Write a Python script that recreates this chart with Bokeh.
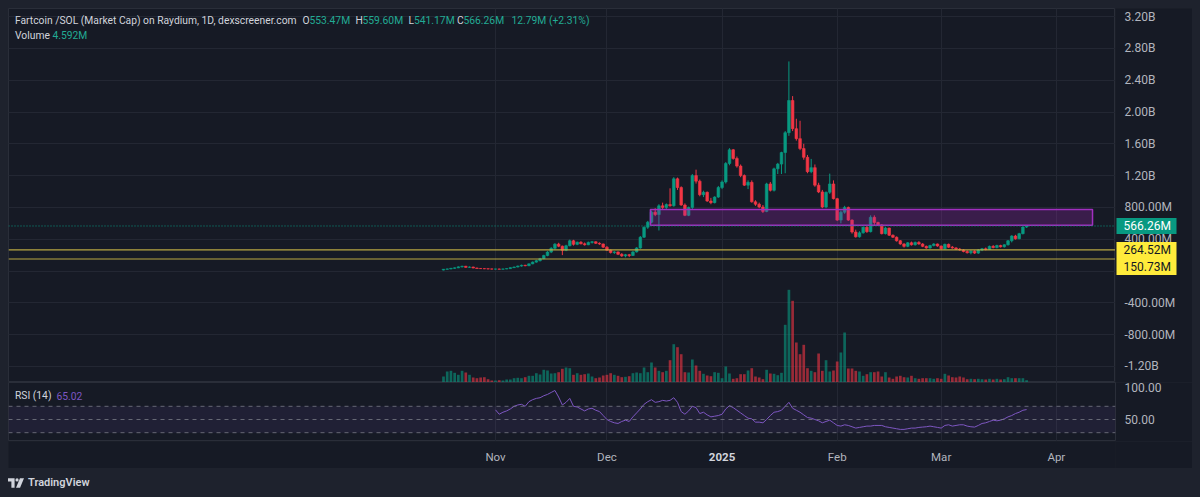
import pandas as pd
from bokeh.plotting import figure
from bokeh.models import Range1d, FixedTicker, Span, Label, BoxAnnotation, ColumnDataSource, Div
from bokeh.layouts import column, row
from bokeh.embed import file_html
from bokeh.resources import INLINE
from bokeh.core.properties import value

# ---------------- data (market cap in millions USD) ----------------
first_day = "2024-10-18"
last_day = "2025-03-24"

opens = [12, 22, 26, 34, 40, 52, 60, 46, 50, 38,
         32, 30, 28, 26, 24, 25, 22, 26, 30, 42,
         50, 62, 72, 66, 90, 112, 130, 155, 195, 238,
         285, 338, 312, 260, 318, 380, 335, 362, 342, 330,
         360, 368, 348, 340, 300, 262, 232, 240, 210, 190,
         205, 195, 240, 290, 425, 551, 614, 740, 710, 820,
         800, 835, 820, 1160, 1050, 830, 700, 800, 1200, 1130,
         960, 990, 880, 860, 930, 1050, 1120, 1352, 1525, 1415,
         1320, 1200, 1080, 1115, 870, 840, 805, 750, 1095, 1015,
         1285, 1345, 1490, 1740, 2145, 1790, 1665, 1540, 1430, 1250,
         1300, 1080, 995, 805, 990, 1095, 910, 640, 740, 800,
         640, 490, 430, 480, 550, 495, 675, 610, 580, 470,
         540, 450, 425, 380, 340, 310, 355, 330, 360, 340,
         310, 290, 320, 340, 315, 280, 335, 300, 290, 275,
         265, 245, 230, 250, 225, 265, 280, 270, 310, 295,
         320, 305, 330, 380, 440, 405, 470, 553.47]

highs = [25, 30, 38, 45, 58, 66, 64, 58, 54, 42,
         36, 34, 33, 30, 28, 30, 28, 32, 45, 55,
         68, 80, 78, 95, 120, 140, 165, 205, 250, 300,
         350, 355, 320, 330, 395, 392, 370, 375, 358, 370,
         378, 372, 360, 345, 312, 270, 250, 245, 225, 215,
         215, 250, 300, 440, 560, 630, 760, 790, 840, 860,
         850, 1040, 1180, 1175, 1065, 850, 810, 1220, 1275, 1150,
         1010, 1000, 920, 940, 1070, 1140, 1370, 1545, 1535, 1440,
         1340, 1215, 1140, 1140, 890, 860, 830, 1110, 1120, 1300,
         1360, 1500, 1760, 2636, 2200, 1915, 1890, 1600, 1460, 1410,
         1340, 1110, 1020, 1000, 1225, 1140, 920, 760, 820, 810,
         650, 520, 500, 560, 570, 700, 700, 620, 590, 555,
         545, 460, 435, 390, 350, 365, 370, 370, 375, 350,
         320, 330, 350, 345, 320, 345, 345, 315, 300, 290,
         275, 260, 260, 260, 275, 290, 295, 320, 325, 330,
         330, 335, 390, 450, 455, 480, 560, 566.26]

lows = [8, 18, 22, 28, 36, 45, 42, 40, 34, 28,
        26, 24, 22, 20, 18, 20, 20, 23, 28, 38,
        46, 55, 60, 62, 85, 105, 120, 148, 185, 225,
        270, 300, 200, 250, 310, 320, 325, 335, 320, 325,
        345, 340, 330, 290, 255, 220, 215, 200, 178, 172,
        175, 190, 232, 280, 415, 530, 600, 690, 510, 780,
        770, 810, 810, 1020, 820, 690, 690, 770, 1100, 940,
        930, 870, 840, 850, 920, 1030, 1100, 1330, 1400, 1300,
        1180, 1070, 1030, 860, 820, 790, 730, 740, 1000, 1000,
        1220, 1220, 1230, 1700, 1760, 1640, 1520, 1400, 1230, 1230,
        1060, 980, 790, 790, 970, 900, 630, 600, 720, 630,
        470, 420, 420, 470, 480, 485, 580, 565, 460, 460,
        440, 415, 370, 330, 295, 300, 320, 320, 330, 300,
        280, 280, 310, 305, 270, 270, 290, 280, 265, 255,
        235, 220, 210, 215, 215, 250, 260, 265, 285, 285,
        295, 295, 320, 360, 395, 400, 460, 541.17]

closes = [22, 26, 34, 40, 52, 60, 46, 50, 38, 32,
          30, 28, 26, 24, 25, 22, 26, 30, 42, 50,
          62, 72, 66, 90, 112, 130, 155, 195, 238, 285,
          338, 312, 260, 318, 380, 335, 362, 342, 330, 360,
          368, 348, 340, 300, 262, 232, 240, 210, 190, 205,
          195, 240, 290, 425, 551, 614, 740, 710, 820, 800,
          835, 820, 1160, 1050, 830, 700, 800, 1200, 1130, 960,
          990, 880, 860, 930, 1050, 1120, 1352, 1525, 1415, 1320,
          1200, 1080, 1115, 870, 840, 805, 750, 1095, 1015, 1285,
          1345, 1490, 1740, 2145, 1790, 1665, 1540, 1430, 1250, 1300,
          1080, 995, 805, 990, 1095, 910, 640, 740, 800, 640,
          490, 430, 480, 550, 495, 675, 610, 580, 470, 540,
          450, 425, 380, 340, 310, 355, 330, 360, 340, 310,
          290, 320, 340, 315, 280, 335, 300, 290, 275, 265,
          245, 230, 250, 225, 265, 280, 270, 310, 295, 320,
          305, 330, 380, 440, 405, 470, 553.47, 566.26]

volumes = [12, 22, 23.4, 19.4, 15.4, 23.4, 20, 15.4, 10, 8.6,
           10, 10.6, 6.6, 4, 4, 4.6, 4, 6, 6, 8.6,
           9.4, 8.6, 10.6, 13.4, 13.4, 18.6, 16, 25.4, 24, 18,
           18.6, 20.6, 27.4, 30, 28.6, 15.4, 18.6, 15.4, 16.6, 18,
           12, 8.6, 10, 14, 15.4, 18.6, 15.4, 13.4, 10.6, 11.4,
           12.6, 18.6, 20, 18.6, 30, 20.6, 40, 30, 23.4, 20.6,
           23.4, 44.6, 76.6, 70.6, 56.6, 20.6, 20, 46, 34, 23.4,
           17.4, 14, 12.6, 20.6, 19.4, 8.6, 32, 18, 7.4, 8.6,
           16.6, 16.6, 24, 28.6, 12, 10, 6.6, 25.4, 18, 17.4,
           14.6, 19.4, 115.4, 185.4, 163.4, 80, 56.6, 75.4, 28.6, 23.4,
           20.6, 58, 23.4, 44.6, 22, 24, 42, 60, 100, 28,
           28, 23.4, 22, 13.4, 16.6, 20.6, 20.6, 22, 12, 20.6,
           10, 7.4, 12, 13.4, 10.6, 10, 13.4, 8.6, 7.4, 8.6,
           8.6, 8.6, 7.4, 8.6, 7.4, 17.4, 14, 10.6, 10, 12,
           10, 6.6, 7.4, 6.6, 7.4, 6.6, 6, 7.4, 6, 7.4,
           6, 6.6, 10.6, 8.6, 8.6, 8.6, 8.6, 4.592]

rsi_first_day = "2024-11-01"
rsi_values = [64.6, 58, 61, 63, 66, 70, 72, 73, 70, 77,
              80, 82, 83, 86, 88, 91, 94, 84, 72, 76,
              82, 70, 69, 66, 63, 66, 67, 64, 62, 56,
              50, 47, 45, 44, 47, 49, 47, 54, 60, 66,
              73, 77, 80, 76, 77, 79, 78, 79, 83, 76,
              62, 58, 63, 70, 68, 59, 61, 57, 54, 55,
              56, 58, 66, 71, 68, 64, 60, 56, 52, 51,
              46, 46, 45, 50, 56, 61, 62, 64, 70, 76,
              67, 64, 61, 57, 53, 52, 50, 48, 45, 47,
              49, 45, 41, 40, 42, 41, 39, 37, 38, 39,
              40, 40, 41, 41, 41, 39, 38, 37, 36, 35,
              35, 36, 37, 37, 38, 38.5, 39, 40, 39, 38,
              37, 41, 42, 40, 41, 42, 42, 40, 39, 38.5,
              41, 44, 45, 47, 49, 48, 49, 51, 54, 56,
              59, 61, 64, 65.02]

price_ticks = [-1200, -800, -400, 0, 400, 800, 1200, 1600, 2000, 2400, 2800, 3200]
price_tick_labels = ["-1.20B", "-800.00M", "-400.00M", "", "400.00M", "800.00M",
                     "1.20B", "1.60B", "2.00B", "2.40B", "2.80B", "3.20B"]
month_starts = ["2024-11-01", "2024-12-01", "2025-01-01", "2025-02-01", "2025-03-01", "2025-04-01"]
month_labels = ["Nov", "Dec", "2025", "Feb", "Mar", "Apr"]
level_prices = [264.52, 150.73]
level_labels = ["264.52M", "150.73M"]
last_price = 566.26
last_price_label = "566.26M"
zone_days = ["2024-12-12 17:00", "2025-04-10 18:00"]
zone_prices = [575.0, 775.0]
rsi_band = [30, 70]
rsi_mid = 50
rsi_ticks = [50, 100]
rsi_tick_labels = ["50.00", "100.00"]

title_text = "Fartcoin /SOL (Market Cap) on Raydium, 1D, dexscreener.com"
ohlc_keys = ["O", "H", "L", "C"]
ohlc_texts = ["553.47M", "559.60M", "541.17M", "566.26M"]
change_text = "12.79M (+2.31%)"
volume_name = "Volume"
volume_text = "4.592M"
rsi_name = "RSI (14)"
rsi_text = "65.02"

# ---------------- style ----------------
GREEN = "#089981"
RED = "#f23645"
LEG_GREEN = "#22ab94"
YELLOW = "#ffeb3b"
BG = "#161a25"
OUTER = "#1e222d"
GRID = "#232733"
BORDER = "#2a2e39"
TEXT = "#d1d4dc"
AXIS_TEXT = "#b2b5be"
FONT = "Roboto"

t0 = pd.Timestamp(first_day)
def day_of(s):
    return (pd.Timestamp(s) - t0).total_seconds() / 86400.0

dates = pd.date_range(first_day, last_day, freq="D")
days = [day_of(d) for d in dates]
month_days = [day_of(m) for m in month_starts]
rsi_x = days[days.index(day_of(rsi_first_day)):]

up = [c >= o for o, c in zip(opens, closes)]
src = ColumnDataSource(dict(
    x=days, o=opens, h=highs, l=lows, c=closes,
    top=[max(o, c) for o, c in zip(opens, closes)],
    bot=[min(o, c) for o, c in zip(opens, closes)],
    col=[GREEN if u else RED for u in up],
    v=volumes,
))

PX_PER_DAY = 3.714
FRAME_W = 1107
SCALE_W = 77
x_start = day_of("2024-11-01") - 487 / PX_PER_DAY
x_range = Range1d(x_start, x_start + FRAME_W / PX_PER_DAY)

MAIN_H = 374
y_range = Range1d(-1402.5, 3302.0)
ppp = (y_range.end - y_range.start) / MAIN_H   # price per pixel

common = dict(toolbar_location=None, output_backend="svg",
              background_fill_color=BG, border_fill_color=BG)

# ---------------- main price pane ----------------
p = figure(width=FRAME_W, height=MAIN_H, x_range=x_range, y_range=y_range,
           x_axis_location=None, y_axis_location=None, min_border=0,
           outline_line_color=BORDER, **common)
p.extra_y_ranges = {"vol": Range1d(0, MAIN_H * 2.0)}
p.ygrid.ticker = FixedTicker(ticks=price_ticks)
p.ygrid.grid_line_color = GRID
p.xgrid.ticker = FixedTicker(ticks=month_days)
p.xgrid.grid_line_color = GRID

p.vbar(x="x", width=0.72, top="v", bottom=0, fill_color="col", fill_alpha=0.6,
       line_color=None, y_range_name="vol", source=src)
p.segment(x0="x", y0="l", x1="x", y1="h", line_color="col", line_width=1, source=src)
p.vbar(x="x", width=0.72, top="top", bottom="bot", fill_color="col", line_color="col",
       line_width=0.6, source=src)

p.quad(left=[day_of(zone_days[0])], right=[day_of(zone_days[1])],
       bottom=[zone_prices[0]], top=[zone_prices[1]],
       fill_color="#9c27b0", fill_alpha=0.28, line_color="#a12fbf", line_width=1.5)

for lv in level_prices:
    p.add_layout(Span(location=lv, dimension="width", line_color="#c9b545",
                      line_width=1.2, line_alpha=0.9))
p.add_layout(Span(location=last_price, dimension="width", line_color=GREEN,
                  line_width=1, line_dash="1 2"))

def add_text(fig, x, y, text, color, size="10.3px", bold=False):
    fig.add_layout(Label(x=x, y=y, x_units="screen", y_units="screen", text=text,
                         text_color=color, text_font=FONT, text_font_size=size,
                         text_baseline="middle", text_align="left",
                         text_font_style="bold" if bold else "normal"))

# header legend (page coords -> frame coords: x-8, 382-y)
add_text(p, 14.5 - 8, 382 - 20, title_text, TEXT)
key_x = [302, 355, 408, 456.5]
val_x = [309, 362, 413.5, 463]
for kx, vx, k, t in zip(key_x, val_x, ohlc_keys, ohlc_texts):
    add_text(p, kx - 8, 382 - 20, k, TEXT)
    add_text(p, vx - 8, 382 - 20, t, LEG_GREEN)
add_text(p, 511 - 8, 382 - 20, change_text, LEG_GREEN)
add_text(p, 14.5 - 8, 382 - 35, volume_name, TEXT)
add_text(p, 52 - 8, 382 - 35, volume_text, LEG_GREEN)

# ---------------- price scale column ----------------
s = figure(width=SCALE_W, height=MAIN_H, x_range=Range1d(0, SCALE_W), y_range=y_range,
           x_axis_location=None, y_axis_location=None, min_border=0,
           outline_line_color=None, **common)
s.xgrid.visible = False
s.ygrid.visible = False
tick_pairs = [(t, l) for t, l in zip(price_ticks, price_tick_labels) if l]
s.text(x=9, y=[t for t, _ in tick_pairs], text=[l for _, l in tick_pairs],
       text_color=AXIS_TEXT, text_font=value(FONT), text_font_size="12px",
       text_baseline="middle", text_align="left")
# current price tag
s.quad(left=[1], right=[61], bottom=[last_price - 8 * ppp], top=[last_price + 8 * ppp],
       fill_color=GREEN, line_color=None)
s.text(x=8, y=[last_price], text=[last_price_label], text_color="#ffffff",
       text_font=value(FONT), text_font_size="12px", text_baseline="middle", text_align="left")
# level tags (second one pushed down so they do not overlap)
level_tag_y = [level_prices[0], level_prices[1] - 7.5 * ppp]
s.quad(left=[1], right=[61], bottom=[level_tag_y[1] - 8.5 * ppp], top=[level_tag_y[0] + 8 * ppp],
       fill_color=YELLOW, line_color=None)
s.text(x=8, y=level_tag_y, text=level_labels, text_color="#131722",
       text_font=value(FONT), text_font_size="12px", text_baseline="middle", text_align="left")

# ---------------- RSI pane ----------------
RSI_H = 59
r = figure(width=FRAME_W + SCALE_W, height=RSI_H, x_range=x_range, y_range=Range1d(16.67, 106.06),
           y_axis_location="right", x_axis_location=None,
           min_border_left=0, min_border_right=SCALE_W, min_border_top=0, min_border_bottom=0,
           outline_line_color=BORDER, **common)
r.yaxis.ticker = FixedTicker(ticks=rsi_ticks)
r.yaxis.major_label_overrides = {t: lab for t, lab in zip(rsi_ticks, rsi_tick_labels)}
r.yaxis.axis_line_color = None
r.yaxis.major_tick_line_color = None
r.yaxis.minor_tick_line_color = None
r.yaxis.major_tick_out = 0
r.yaxis.major_label_standoff = 9
r.yaxis.major_label_text_color = AXIS_TEXT
r.yaxis.major_label_text_font = FONT
r.yaxis.major_label_text_font_size = "12px"
r.xgrid.ticker = FixedTicker(ticks=month_days)
r.xgrid.grid_line_color = GRID
r.ygrid.visible = False

r.add_layout(BoxAnnotation(bottom=rsi_band[0], top=rsi_band[1], fill_color="#7e57c2",
                           fill_alpha=0.1, line_color=None))
for lv in (rsi_band[1], rsi_mid, rsi_band[0]):
    r.add_layout(Span(location=lv, dimension="width", line_color="#787b86",
                      line_alpha=0.8, line_width=1, line_dash="4 4"))
r.line(rsi_x, rsi_values, line_color="#7e57c2", line_width=1)
add_text(r, 14.5 - 8, 441 - 395, rsi_name, TEXT)
add_text(r, 56 - 8, 441 - 395, rsi_text, "#7e57c2")

# ---------------- time scale ----------------
TIME_H = 27
tf = figure(width=FRAME_W + SCALE_W, height=TIME_H, x_range=x_range, y_range=Range1d(0, TIME_H),
            x_axis_location=None, y_axis_location=None,
            min_border_left=0, min_border_right=SCALE_W, min_border_top=0, min_border_bottom=0,
            outline_line_color=None, **common)
tf.xgrid.visible = False
tf.ygrid.visible = False
normal = [(d, m) for d, m in zip(month_days, month_labels) if m != "2025"]
bold = [(d, m) for d, m in zip(month_days, month_labels) if m == "2025"]
tf.text(x=[d for d, _ in normal], y=12, text=[m for _, m in normal], text_color=AXIS_TEXT,
        text_font=value(FONT), text_font_size="11.5px", text_baseline="middle", text_align="center")
tf.text(x=[d for d, _ in bold], y=12, text=[m for _, m in bold], text_color=TEXT,
        text_font=value(FONT), text_font_size="11.5px", text_font_style="bold",
        text_baseline="middle", text_align="center")

# ---------------- footer ----------------
logo_svg = ('<svg width="16" height="10" viewBox="0 0 17 10" style="margin-right:4px;flex:none">'
            '<path d="M0 0h7v10H3.6V3.3H0z" fill="#d1d4dc"/>'
            '<circle cx="9.6" cy="1.7" r="1.7" fill="#d1d4dc"/>'
            '<path d="M12.7 0H17l-4.2 10H8.5z" fill="#d1d4dc"/></svg>')
footer = Div(text=('<div style="display:flex;align-items:center;height:12px;margin-top:9px;'
                   'font-family:Roboto;font-size:11px;font-weight:600;color:#d1d4dc;">'
                   + logo_svg + 'TradingView</div>'),
             width=FRAME_W + SCALE_W, height=21, margin=0, styles={"background-color": OUTER})

layout = column(row(p, s, spacing=0), r, tf, footer, spacing=0)
html = file_html(layout, INLINE)
html = html.replace("</head>",
                    "<style>html,body{background:%s !important;} body{padding:8px !important;}</style></head>" % OUTER, 1)
open("out.html", "w").write(html)
